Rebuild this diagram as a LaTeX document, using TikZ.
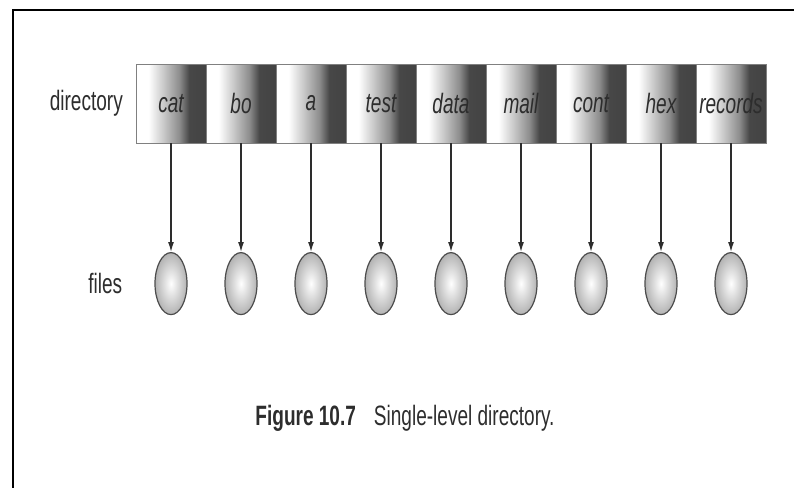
\documentclass[tikz,border=0pt]{standalone}
\usepackage{fontspec}
\usepackage{tikz}
\usetikzlibrary{arrows.meta,shapes.geometric,positioning}
\newfontfamily\narrowsans[FakeStretch=0.68]{Liberation Sans}
\definecolor{ink}{RGB}{45,45,45}
% white on the left, dark band on the right of every slot
\pgfdeclarehorizontalshading{dirslot}{100bp}{color(0bp)=(white); color(34bp)=(white);
  color(45bp)=(black!22); color(56bp)=(black!45); color(63bp)=(black!72); color(100bp)=(black!78)}
\tikzset{
  slot/.style={shading=dirslot, draw=black!50, line width=0.8pt, minimum width=70pt,
    minimum height=79pt, inner sep=0pt, outer sep=0pt,
    font=\narrowsans\itshape\fontsize{28}{30}\selectfont, text=ink},
  fileball/.style={ellipse, draw=black!70, line width=1.2pt, inner color=white,
    outer color=black!30, minimum width=32pt, minimum height=62pt, inner sep=0pt},
  lbl/.style={inner sep=0pt, font=\narrowsans\fontsize{28}{30}\selectfont, text=ink},
  ptr/.style={-{Latex[length=10pt,width=6pt]}, line width=1.3pt, draw=ink}
}

\begin{document}
\begin{tikzpicture}[x=1pt,y=1pt]
  \useasboundingbox (0,0) rectangle (794,-488);
  \draw[line width=2.2pt] (794,-10) -| (13,-488);

  % the directory: one slot per file name
  \node[slot] (cat) at (171,-103.5) {cat};
  \node[slot,right=0pt of cat] (bo) {bo};
  \node[slot,right=0pt of bo] (a) {a};
  \node[slot,right=0pt of a] (test) {test};
  \node[slot,right=0pt of test] (data) {data};
  \node[slot,right=0pt of data] (mail) {mail};
  \node[slot,right=0pt of mail] (cont) {cont};
  \node[slot,right=0pt of cont] (hex) {hex};
  \node[slot,right=0pt of hex] (records) {records};
  \node[lbl,left=13pt of cat] (dirlbl) {directory};

  % the files
  \node[fileball,below=109pt of cat] (fcat) {};
  \node[fileball,below=109pt of bo] (fbo) {};
  \node[fileball,below=109pt of a] (fa) {};
  \node[fileball,below=109pt of test] (ftest) {};
  \node[fileball,below=109pt of data] (fdata) {};
  \node[fileball,below=109pt of mail] (fmail) {};
  \node[fileball,below=109pt of cont] (fcont) {};
  \node[fileball,below=109pt of hex] (fhex) {};
  \node[fileball,below=109pt of records] (frecords) {};
  \node[lbl,left=32pt of fcat] (fileslbl) {files};

  \draw[ptr] (cat) -- (fcat);
  \draw[ptr] (bo) -- (fbo);
  \draw[ptr] (a) -- (fa);
  \draw[ptr] (test) -- (ftest);
  \draw[ptr] (data) -- (fdata);
  \draw[ptr] (mail) -- (fmail);
  \draw[ptr] (cont) -- (fcont);
  \draw[ptr] (hex) -- (fhex);
  \draw[ptr] (records) -- (frecords);

  \node[lbl] (caption) at (405,-418) {\textbf{Figure 10.7}\hspace{18pt}Single-level directory.};
\end{tikzpicture}
\end{document}
